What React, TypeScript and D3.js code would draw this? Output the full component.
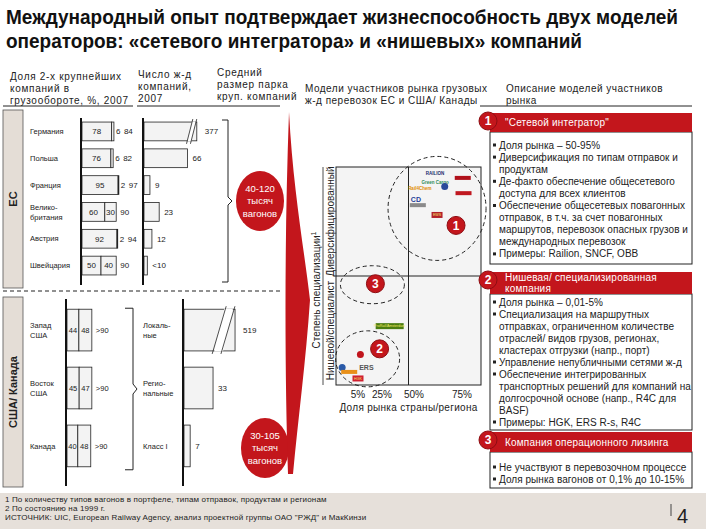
import React from "react";
import * as d3 from "d3";

const FONT = "'Liberation Sans', Arial, Helvetica, sans-serif";
const NARROW = "'Liberation Sans Narrow', 'Arial Narrow', 'Liberation Sans', Arial, sans-serif";
const RED = "#c3161c";
const DARK_RED = "#8e0d12";
const BEIGE = "#e4ddd6";
const BAR_FILL = "#f3f3f3";

// ---- text ----
const titleLines = [
  "Международный опыт подтверждает жизнеспособность двух моделей",
  "операторов: «сетевого интегратора» и «нишевых» компаний",
];
const headShare = ["Доля 2-х крупнейших", "компаний в", "грузообороте, %, 2007"];
const headCount = ["Число ж-д", "компаний,", "2007"];
const headFleet = ["Средний", "размер парка", "круп. компаний"];
const headModels = ["Модели участников рынка грузовых", "ж-д перевозок ЕС и США/ Канады"];
const headDescr = ["Описание моделей участников", "рынка"];

// ---- EU block ----
const euLabel = "ЕС";
const euCountries = ["Германия", "Польша", "Франция", "Велико-|британия", "Австрия", "Швейцария"];
const euLeaderShare = [78, 76, 95, 60, 92, 50];
const euSecondShare = [6, 6, 2, 30, 2, 40];
const euTop2Labels = ["84", "82", "97", "90", "94", "90"];
const euOperators = [377, 66, 9, 23, 12, 5];
const euOperatorLabels = ["377", "66", "9", "23", "12", "<10"];
const euFleet = ["40-120", "тысяч", "вагонов"];

// ---- US / Canada block ----
const usLabel = "США/ Канада";
const usRegions = ["Запад|США", "Восток|США", "Канада"];
const usLeaderShare = [44, 45, 40];
const usSecondShare = [48, 47, 48];
const usTop2Labels = [">90", ">90", ">90"];
const usClasses = ["Локаль-|ные", "Регио-|нальные", "Класс I"];
const usOperators = [519, 33, 7];
const usOperatorLabels = ["519", "33", "7"];
const usFleet = ["30-105", "тысяч", "вагонов"];

// ---- models matrix ----
const xTickValues = [5, 25, 50, 75];
const xAxisTitle = "Доля рынка страны/региона";
const yAxisTitle = "Степень специализации";
const yCategories = ["Нишевой/специалист", "Диверсифицированный"];
const clusterIds = ["1", "3", "2"];
const clusterShare = [62, 17, 13];
const clusterSpec = [81, 46, 12];

const logoLabel = ["RAILION", "", "Green Cargo", "", "Rail4Chem", "", "CD", "", "EWS", "ProRail/Amsterdam", "", "", "", "HGK", "ERS"];
const logoKind = ["text", "bar", "text", "dot", "text", "bar", "text", "bar", "badge", "badge", "dot", "dot", "bar", "badge", "text"];
const logoShare = [61, 76, 61, 66, 53, 77, 51, 52, 62, 31, 7, 1.4, 3, 5, 12];
const logoSpec = [97, 95, 93, 91, 90, 88, 85, 82.5, 78, 27, 14, 8, 6, 3, 8];
const logoColor = ["#1a2a6c", "#b0101a", "#2e8b57", "#2a4a9a", "#e08a00", "#c01820", "#1f3f99", "#8a8a8a", "#b3202a", "#4b7d10", "#c0141c", "#2a5aa8", "#e8901a", "#d02030", "#555"];

// ---- descriptions ----
const box1Title = ['"Сетевой интегратор"'];
const box1Lines = [
  "▪Доля рынка – 50-95%",
  "▪Диверсификация по типам отправок и",
  "продуктам",
  "▪Де-факто обеспечение общесетевого",
  "доступа для всех клиентов",
  "▪Обеспечение общесетевых повагонных",
  "отправок, в т.ч. за счет повагонных",
  "маршрутов, перевозок опасных грузов и",
  "международных перевозок",
  "▪Примеры: Railion, SNCF, OBB",
];
const box2Title = ["Нишевая/ специализированная", "компания"];
const box2Lines = [
  "▪Доля рынка – 0,01-5%",
  "▪Специализация на маршрутных",
  "отправках, ограниченном количестве",
  "отраслей/ видов грузов, регионах,",
  "кластерах отгрузки (напр., порт)",
  "▪Управление непубличными сетями ж-д",
  "▪Обеспечение интегрированных",
  "транспортных решений для компаний на",
  "долгосрочной основе (напр., R4C для",
  "BASF)",
  "▪Примеры: HGK, ERS R-s, R4C",
];
const box3Title = ["Компания операционного лизинга"];
const box3Lines = ["▪Не участвуют в перевозочном процессе", "▪Доля рынка вагонов от 0,1% до 10-15%"];

const footnotes = [
  "1 По количеству типов вагонов в портфеле, типам отправок, продуктам и регионам",
  "2 По состоянию на 1999 г.",
  "ИСТОЧНИК: UIC, European Railway Agency, анализ проектной группы ОАО \"РЖД\" и МакКинзи",
];
const pageNumber = "4";

// multi-line text centred on yc
function Multi({ lines, x, yc, lh, ...rest }: any) {
  const y0 = yc - ((lines.length - 1) * lh) / 2;
  return (
    <text {...rest}>
      {lines.map((l: string, i: number) => (
        <tspan key={i} x={x} y={y0 + i * lh} dy="0.35em">{l}</tspan>
      ))}
    </text>
  );
}

function ShareBars({ names, lead, second, totals, y, x, fs }: any) {
  return names.map((n: string, i: number) => {
    const y0 = y(n), h = y.bandwidth(), cy = y0 + h / 2;
    const xa = x(0), xb = x(lead[i]), xc = x(lead[i] + second[i]);
    const inside = second[i] >= 20;
    return (
      <g key={n} fontSize={fs} fill="#222">
        <rect x={xa} y={y0} width={xb - xa} height={h} fill={BAR_FILL} stroke="#222" strokeWidth={0.8} />
        <rect x={xb} y={y0} width={xc - xb} height={h} fill={BAR_FILL} stroke="#222" strokeWidth={0.8} />
        <text x={(xa + xb) / 2} y={cy} dy="0.35em" textAnchor="middle">{lead[i]}</text>
        {inside ? (
          <text x={(xb + xc) / 2} y={cy} dy="0.35em" textAnchor="middle">{second[i]}</text>
        ) : (
          <text x={xc + 2} y={cy} dy="0.35em">{second[i]}</text>
        )}
        <text x={inside ? xc + 4 : xc + 10} y={cy} dy="0.35em">{totals[i]}</text>
      </g>
    );
  });
}

function CountBars({ names, values, labels, y, x, breakAt, fs }: any) {
  return names.map((n: string, i: number) => {
    const y0 = y(n), h = y.bandwidth(), cy = y0 + h / 2;
    const broken = values[i] > breakAt;
    const xe = x(Math.min(values[i], breakAt));
    const sl = h * 0.12;
    const l1 = xe - h * 0.38, l2 = xe - h * 0.17;
    return (
      <g key={n} fontSize={fs} fill="#222">
        <rect x={x(0)} y={y0} width={xe - x(0)} height={h} fill={BAR_FILL} stroke="#222" strokeWidth={0.8} />
        {broken && (
          <g stroke="#222" strokeWidth={0.8}>
            <polygon points={`${l1 - sl},${y0 + h + 0.5} ${l1 + sl},${y0 - 0.5} ${l2 + sl},${y0 - 0.5} ${l2 - sl},${y0 + h + 0.5}`} fill="#fff" stroke="none" />
            <line x1={l1 - sl * 1.4} y1={y0 + h + 3} x2={l1 + sl * 1.4} y2={y0 - 3} />
            <line x1={l2 - sl * 1.4} y1={y0 + h + 3} x2={l2 + sl * 1.4} y2={y0 - 3} />
          </g>
        )}
        <text x={xe + (broken ? 8 : 5)} y={cy} dy="0.35em">{labels[i]}</text>
      </g>
    );
  });
}

function DescrBox({ id, title, lines, top, head, bottom, first, step }: any) {
  const x0 = 490, x1 = 692;
  return (
    <g>
      <rect x={x0} y={top + head} width={x1 - x0} height={bottom - top - head} fill="#fff" stroke="#222" strokeWidth={1} />
      <rect x={x0} y={top} width={x1 - x0} height={head} fill={RED} />
      <Multi lines={title} x={x0 + 15} yc={top + head / 2} lh={11} fontSize={10} letterSpacing={0.2} fill="#fff" />
      <circle cx={x0 - 2} cy={top + 8} r={9} fill={RED} stroke={DARK_RED} strokeWidth={1} />
      <text x={x0 - 2} y={top + 8} dy="0.36em" textAnchor="middle" fontSize={12} fontWeight="bold" fill="#fff">{id}</text>
      {lines.map((l: string, i: number) => {
        const b = l.startsWith("▪");
        const yc = first + i * step;
        return (
          <g key={i}>
            {b && <rect x={x0 + 3} y={yc - 1.5} width={3} height={3} fill="#222" />}
            <text x={x0 + 9} y={yc} dy="0.35em" fontSize={10} letterSpacing={0.05} fill="#222">{b ? l.slice(1) : l}</text>
          </g>
        );
      })}
    </g>
  );
}

export default function App() {
  // EU scales
  const euY = d3.scaleBand<string>().domain(euCountries).range([114, 283]).padding(0.3);
  const euShareX = d3.scaleLinear().domain([0, 100]).range([82, 120]);
  const euCountX = d3.scaleLinear().domain([0, 100]).range([144, 210]);
  // US scales
  const usY = d3.scaleBand<string>().domain(usRegions).range([293, 483]).padding(0.28);
  const usClassY = d3.scaleBand<string>().domain(usClasses).range([293, 483]).padding(0.28);
  const usShareX = d3.scaleLinear().domain([0, 100]).range([67, 94]);
  const usCountX = d3.scaleLinear().domain([0, 100]).range([184, 272]);
  // matrix scales
  const sx = d3.scaleLinear().domain([0, 5, 25, 50, 75, 100]).range([336, 358, 382, 414, 462, 481]);
  const sy = d3.scaleLinear().domain([0, 100]).range([385, 167]);
  const px0 = sx(0), px1 = sx(100), py0 = sy(100), py1 = sy(0);
  const pmx = (px0 + px1) / 2, pmy = (py0 + py1) / 2;

  const rx = [49, 32, 32], ry = [52, 19, 28];
  const bdx = [19, 3, 12], bdy = [17, -1, -10];

  const euTop = euY.range()[0] + 6, euBot = euY.range()[1] - 1;
  const euMid = (euTop + euBot) / 2;
  const usTop = usY(usRegions[0])! - 1, usBot = usY(usRegions[2])! + usY.bandwidth() + 3;
  const usMid = (usTop + usBot) / 2;

  return (
    <svg width={706} height={529} style={{ position: "absolute", left: 0, top: 0, background: "#fff" }} fontFamily={FONT}>
      {/* title */}
      {titleLines.map((t, i) => (
        <text key={i} x={6} y={24 + i * 24} fontFamily={NARROW} fontSize={19.5} fontWeight="bold" fill="#111"
          textLength={i === 0 ? 672 : 576} lengthAdjust="spacingAndGlyphs">{t}</text>
      ))}

      {/* column headers */}
      <g fontSize={10} fill="#222" letterSpacing={0.7}>
        <Multi lines={headShare} x={10} yc={88} lh={12} />
        <Multi lines={headCount} x={138} yc={86} lh={12} />
        <Multi lines={headFleet} x={217} yc={84} lh={12} />
        <Multi lines={headModels} x={305} yc={94} lh={12} letterSpacing={0.5} />
        <Multi lines={headDescr} x={506} yc={94} lh={12} letterSpacing={0.5} />
      </g>
      <g stroke="#222" strokeWidth={1}>
        <line x1={3} x2={133} y1={106} y2={106} />
        <line x1={137} x2={280} y1={106} y2={106} />
        <line x1={480} x2={692} y1={106} y2={106} />
      </g>

      {/* region boxes */}
      <rect x={3} y={110} width={20} height={178} fill={BEIGE} stroke="#555" strokeWidth={0.8} />
      <text transform="translate(17,199) rotate(-90)" textAnchor="middle" fontSize={11} fontWeight="bold" fill="#222">{euLabel}</text>
      <rect x={3} y={297} width={20} height={190} fill={BEIGE} stroke="#555" strokeWidth={0.8} />
      <text transform="translate(17,392) rotate(-90)" textAnchor="middle" fontSize={11} fontWeight="bold" fill="#222">{usLabel}</text>
      <line x1={3} x2={283} y1={291} y2={291} stroke="#222" strokeDasharray="4,3" />

      {/* EU rows */}
      {euCountries.map((c) => (
        <Multi key={c} lines={c.split("|")} x={30} yc={euY(c)! + euY.bandwidth() / 2} lh={10} fontSize={7.5} fill="#222" />
      ))}
      <ShareBars names={euCountries} lead={euLeaderShare} second={euSecondShare} totals={euTop2Labels} y={euY} x={euShareX} fs={8} />
      <CountBars names={euCountries} values={euOperators} labels={euOperatorLabels} y={euY} x={euCountX} breakAt={80} fs={8} />
      <line x1={81} x2={81} y1={118} y2={285} stroke="#111" strokeWidth={2} />
      <line x1={143} x2={143} y1={118} y2={285} stroke="#111" strokeWidth={2} />
      <path d={`M222,${euTop}H228V${euMid - 4}L232,${euMid}L228,${euMid + 4}V${euBot}H222`} fill="none" stroke="#222" />
      <ellipse cx={260} cy={euMid} rx={24} ry={30} fill={RED} />
      <Multi lines={euFleet} x={260} yc={euMid} lh={12.5} fontSize={9.5} fill="#fff" textAnchor="middle" />

      {/* US rows */}
      {usRegions.map((c) => (
        <Multi key={c} lines={c.split("|")} x={30} yc={usY(c)! + usY.bandwidth() / 2} lh={10} fontSize={7.5} fill="#222" />
      ))}
      <ShareBars names={usRegions} lead={usLeaderShare} second={usSecondShare} totals={usTop2Labels} y={usY} x={usShareX} fs={7.5} />
      {usClasses.map((c) => (
        <Multi key={c} lines={c.split("|")} x={143} yc={usClassY(c)! + usClassY.bandwidth() / 2} lh={10} fontSize={7.5} fill="#222" />
      ))}
      <CountBars names={usClasses} values={usOperators} labels={usOperatorLabels} y={usClassY} x={usCountX} breakAt={58} fs={8} />
      <line x1={66} x2={66} y1={299} y2={486} stroke="#111" strokeWidth={2} />
      <line x1={183} x2={183} y1={299} y2={486} stroke="#111" strokeWidth={2} />
      <path d={`M125,${usTop}H133V${usMid - 5}L137,${usMid}L133,${usMid + 5}V${usBot}H125`} fill="none" stroke="#222" />
      <ellipse cx={265} cy={448} rx={24} ry={30} fill={RED} />
      <Multi lines={usFleet} x={265} yc={448} lh={12.5} fontSize={9.5} fill="#fff" textAnchor="middle" />

      {/* red wedge */}
      <path d="M289,112 C293,190 305,255 310,300 C306,360 298,420 293,474 L288,474 C285,380 284,250 289,112 Z" fill={RED} />

      {/* matrix */}
      <rect x={px0} y={py0} width={px1 - px0} height={py1 - py0} fill="#f4f4f4" stroke="#222" />
      <line x1={pmx} x2={pmx} y1={py0} y2={py1} stroke="#222" />
      <line x1={px0} x2={px1} y1={pmy} y2={pmy} stroke="#222" />
      <line x1={323} x2={323} y1={py0} y2={py1} stroke="#222" strokeWidth={0.8} />
      <text transform={`translate(320,${pmy + 14}) rotate(-90)`} textAnchor="middle" fontSize={10} fill="#222">
        {yAxisTitle}<tspan dy={-4} fontSize={7}>1</tspan>
      </text>
      {yCategories.map((c, i) => (
        <text key={c} transform={`translate(334,${sy(25 + i * 50)}) rotate(-90)`} textAnchor="middle" fontSize={10} fill="#222">{c}</text>
      ))}
      {xTickValues.map((v) => (
        <text key={v} x={sx(v)} y={398} textAnchor="middle" fontSize={10} fill="#222">{`${v}%`}</text>
      ))}
      <text x={pmx} y={411} textAnchor="middle" fontSize={10} letterSpacing={0.3} fill="#222">{xAxisTitle}</text>

      {/* logos */}
      {logoLabel.map((l, i) => {
        const x = sx(logoShare[i]), y = sy(logoSpec[i]), c = logoColor[i];
        if (logoKind[i] === "text")
          return <text key={i} x={x} y={y} dy="0.35em" textAnchor="middle" fontSize={l.length > 4 ? 4.5 : 7} fontWeight="bold" fill={c}>{l}</text>;
        if (logoKind[i] === "bar") return <rect key={i} x={x - 8} y={y - 2} width={16} height={4} fill={c} />;
        if (logoKind[i] === "dot") return <circle key={i} cx={x} cy={y} r={3.5} fill={c} />;
        const w = l.length > 6 ? 28 : 11;
        return (
          <g key={i}>
            <rect x={x - w / 2} y={y - 3} width={w} height={6} fill={c} />
            <text x={x} y={y} dy="0.35em" textAnchor="middle" fontSize={3.6} fill="#f5e96b">{l}</text>
          </g>
        );
      })}

      {/* clusters */}
      {clusterIds.map((id, i) => {
        const cx = sx(clusterShare[i]), cy = sy(clusterSpec[i]);
        return (
          <g key={id}>
            <ellipse cx={cx} cy={cy} rx={rx[i]} ry={ry[i]} fill="none" stroke="#222" strokeDasharray="4,3" />
            <circle cx={cx + bdx[i]} cy={cy + bdy[i]} r={9} fill={RED} stroke={DARK_RED} />
            <text x={cx + bdx[i]} y={cy + bdy[i]} dy="0.36em" textAnchor="middle" fontSize={12} fontWeight="bold" fill="#fff">{id}</text>
          </g>
        );
      })}

      {/* descriptions */}
      <DescrBox id="1" title={box1Title} lines={box1Lines} top={113} head={19} bottom={264} first={145} step={12.1} />
      <DescrBox id="2" title={box2Title} lines={box2Lines} top={272} head={22} bottom={430} first={302} step={12} />
      <DescrBox id="3" title={box3Title} lines={box3Lines} top={432} head={20} bottom={488} first={467} step={12} />

      {/* footer */}
      <rect x={0} y={493} width={706} height={36} fill="#e6e0da" />
      {footnotes.map((f, i) => (
        <text key={i} x={5} y={502 + i * 9} fontSize={8} letterSpacing={0.15} fill="#222">{f}</text>
      ))}
      <line x1={671} x2={671} y1={504} y2={516} stroke="#444" />
      <text x={677} y={523} fontSize={20} fill="#222">{pageNumber}</text>
    </svg>
  );
}
